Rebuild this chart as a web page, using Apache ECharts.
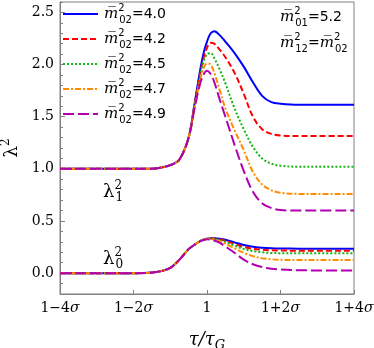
<!DOCTYPE html>
<html><head><meta charset="utf-8">
<script src="https://cdn.jsdelivr.net/npm/echarts@6/dist/echarts.min.js"></script>
<style>html,body{margin:0;padding:0;background:#fff}#c{width:374px;height:348px}</style>
</head><body><div id="c"></div>
<script>
// ---- data ----
const tGrid = [-4, -3, -2, -1.5, -1.25, -1, -0.75, -0.5, -0.35, -0.2, -0.1, 0, 0.1, 0.2, 0.35, 0.5, 0.75, 1, 1.25, 1.5, 1.75, 2, 2.5, 3, 4];
const m02Values = ['4.0', '4.2', '4.5', '4.7', '4.9'];
const upperBlue   = [1,1,1,1,1.012,1.035,1.09,1.30,1.60,1.92,2.10,2.22,2.30,2.32,2.28,2.22,2.11,1.98,1.83,1.70,1.64,1.625,1.615,1.615,1.615];
const upperRed    = [1,1,1,1,1.012,1.035,1.09,1.30,1.59,1.89,2.05,2.16,2.21,2.20,2.14,2.07,1.92,1.72,1.50,1.38,1.335,1.32,1.315,1.315,1.315];
const upperGreen  = [1,1,1,1,1.012,1.035,1.09,1.30,1.58,1.86,2.02,2.10,2.11,2.06,1.95,1.82,1.58,1.38,1.21,1.10,1.05,1.03,1.02,1.02,1.02];
const upperOrange = [1,1,1,1,1.012,1.035,1.09,1.30,1.57,1.83,1.96,2.01,2.00,1.92,1.75,1.58,1.37,1.18,0.97,0.85,0.795,0.77,0.76,0.76,0.76];
const upperPurple = [1,1,1,1,1.012,1.035,1.09,1.30,1.56,1.80,1.90,1.94,1.91,1.83,1.66,1.50,1.23,0.98,0.78,0.67,0.625,0.605,0.60,0.60,0.60];
const lowerBlue   = [0,0,0,0.005,0.02,0.05,0.13,0.23,0.27,0.305,0.32,0.33,0.335,0.335,0.33,0.32,0.295,0.27,0.252,0.243,0.238,0.236,0.235,0.235,0.235];
const lowerRed    = [0,0,0,0.005,0.02,0.05,0.13,0.23,0.27,0.305,0.32,0.33,0.333,0.332,0.325,0.31,0.28,0.252,0.234,0.224,0.219,0.217,0.215,0.215,0.215];
const lowerGreen  = [0,0,0,0.005,0.02,0.05,0.13,0.23,0.27,0.305,0.32,0.33,0.332,0.328,0.318,0.30,0.265,0.232,0.212,0.20,0.194,0.191,0.19,0.19,0.19];
const lowerOrange = [0,0,0,0.005,0.02,0.05,0.13,0.23,0.27,0.305,0.32,0.33,0.33,0.322,0.305,0.282,0.238,0.195,0.163,0.143,0.133,0.128,0.125,0.125,0.125];
const lowerPurple = [0,0,0,0.005,0.02,0.05,0.13,0.23,0.27,0.303,0.316,0.325,0.322,0.312,0.29,0.255,0.195,0.13,0.085,0.058,0.043,0.035,0.028,0.026,0.025];
const xTickValues = [-4, -2, 0, 2, 4];
const xTickLabels = ['1−4σ', '1−2σ', '1', '1+2σ', '1+4σ'];
const yTickValues = [0, 0.5, 1, 1.5, 2, 2.5];
const yTickLabels = ['0.0', '0.5', '1.0', '1.5', '2.0', '2.5'];

// ---- styles ----
const colors = ['#0000ff', '#ff0000', '#11b511', '#ff8c00', '#b000b0'];
const dashes = ['solid', [6, 3], [2, 2], [6, 2, 2, 2], [11, 4]];
const upper = [upperBlue, upperRed, upperGreen, upperOrange, upperPurple];
const lower = [lowerBlue, lowerRed, lowerGreen, lowerOrange, lowerPurple];

const serif = 'DejaVu Serif';
const sans = 'DejaVu Sans';
const axisColor = '#808080';

const series = [];
m02Values.forEach((name, i) => {
  [upper[i], lower[i]].forEach(arr => {
    series.push({
      type: 'line', name: name, showSymbol: false, symbol: 'none',
      smooth: 0.35, silent: true,
      data: tGrid.map((t, k) => [t, arr[k]]),
      lineStyle: { color: colors[i], width: 2, type: dashes[i] },
      itemStyle: { color: colors[i] }
    });
  });
});

const mathRich = {
  m: { fontFamily: serif, fontStyle: 'italic', fontSize: 15, lineHeight: 22, color: '#000' },
  sup: { fontFamily: sans, fontSize: 10, lineHeight: 12, verticalAlign: 'top', width: 1, color: '#000' },
  sub: { fontFamily: sans, fontSize: 10, lineHeight: 11, verticalAlign: 'bottom', color: '#000' },
  t: { fontFamily: sans, fontSize: 14, lineHeight: 22, color: '#000' }
};
const lamRich = {
  l: { fontFamily: serif, fontSize: 18, lineHeight: 24, color: '#000' },
  sup: { fontFamily: serif, fontSize: 12, lineHeight: 13, verticalAlign: 'top', width: 1, color: '#000' },
  sub: { fontFamily: serif, fontSize: 12, lineHeight: 12, verticalAlign: 'bottom', color: '#000' }
};

const chart = echarts.init(document.getElementById('c'), null, { renderer: 'canvas' });
chart.setOption({
  animation: false,
  backgroundColor: '#fff',
  grid: { left: 60, right: 20, top: 2, bottom: 54, show: true, borderColor: axisColor, borderWidth: 1,
          containLabel: false, outerBoundsMode: 'none' },
  legend: {
    left: 62, top: 3, orient: 'vertical', padding: 0,
    itemWidth: 35, itemHeight: 14, itemGap: 3, selectedMode: false,
    data: m02Values,
    itemStyle: { opacity: 0 },
    formatter: n => '{m|m\u0305}{sup|2}{sub|02}{t|=' + n + '}',
    textStyle: { rich: mathRich, padding: [0, 0, 0, 1] }
  },
  xAxis: [{
    type: 'value', min: -4, max: 4, interval: 2,
    axisLine: { onZero: false, lineStyle: { color: axisColor, width: 1 } },
    axisTick: { inside: true, length: 4, lineStyle: { color: axisColor } },
    splitLine: { show: false },
    axisLabel: {
      margin: 7, color: '#000', fontFamily: serif, fontSize: 14,
      formatter: v => {
        const k = xTickValues.indexOf(v);
        return k < 0 ? '' : xTickLabels[k].replace('σ', '{i|σ}');
      },
      rich: { i: { fontFamily: serif, fontStyle: 'italic', fontSize: 14, color: '#000' } }
    },
    name: '{a|τ/τ}{g|G}', nameLocation: 'middle', nameGap: 34,
    nameTextStyle: { rich: {
      a: { fontFamily: serif, fontStyle: 'italic', fontSize: 18, lineHeight: 24, color: '#000' },
      g: { fontFamily: serif, fontStyle: 'italic', fontSize: 13, lineHeight: 14, verticalAlign: 'bottom', color: '#000' }
    } }
  }],
  yAxis: [{
    type: 'value', min: -0.2, max: 2.6,
    axisLine: { show: true, onZero: false, lineStyle: { color: axisColor, width: 1 } },
    axisTick: { show: true, inside: true, length: 5, customValues: yTickValues, lineStyle: { color: axisColor } },
    splitLine: { show: false },
    axisLabel: {
      margin: 6, color: '#000', fontFamily: serif, fontSize: 14,
      customValues: yTickValues,
      formatter: v => { const k = yTickValues.findIndex(y => Math.abs(y - v) < 1e-6); return k < 0 ? '' : yTickLabels[k]; }
    },
    name: '{l|λ}{s|2}', nameLocation: 'middle', nameGap: 33, nameRotate: 90,
    nameTextStyle: { rich: {
      l: { fontFamily: serif, fontSize: 18, lineHeight: 24, color: '#000' },
      s: { fontFamily: serif, fontSize: 12, lineHeight: 14, verticalAlign: 'top', color: '#000' }
    } }
  }, {
    type: 'value', min: -0.2, max: 2.6, interval: 0.1, position: 'left',
    axisLine: { show: false, onZero: false },
    axisTick: { show: true, inside: true, length: 3, lineStyle: { color: axisColor } },
    axisLabel: { show: false }, splitLine: { show: false }
  }],
  graphic: [
    { type: 'text', left: 103, top: 180, silent: true,
      style: { text: '{l|λ}{sup|2}{sub|1}', rich: lamRich } },
    { type: 'text', left: 103, top: 247, silent: true,
      style: { text: '{l|λ}{sup|2}{sub|0}', rich: lamRich } },
    { type: 'text', left: 280, top: 6, silent: true,
      style: { text: '{m|m\u0305}{sup|2}{sub|01}{t|=5.2}', rich: mathRich } },
    { type: 'text', left: 280, top: 32, silent: true,
      style: { text: '{m|m\u0305}{sup|2}{sub|12}{t|=}{m|m\u0305}{sup|2}{sub|02}', rich: mathRich } }
  ],
  series: series
});
</script></body></html>
